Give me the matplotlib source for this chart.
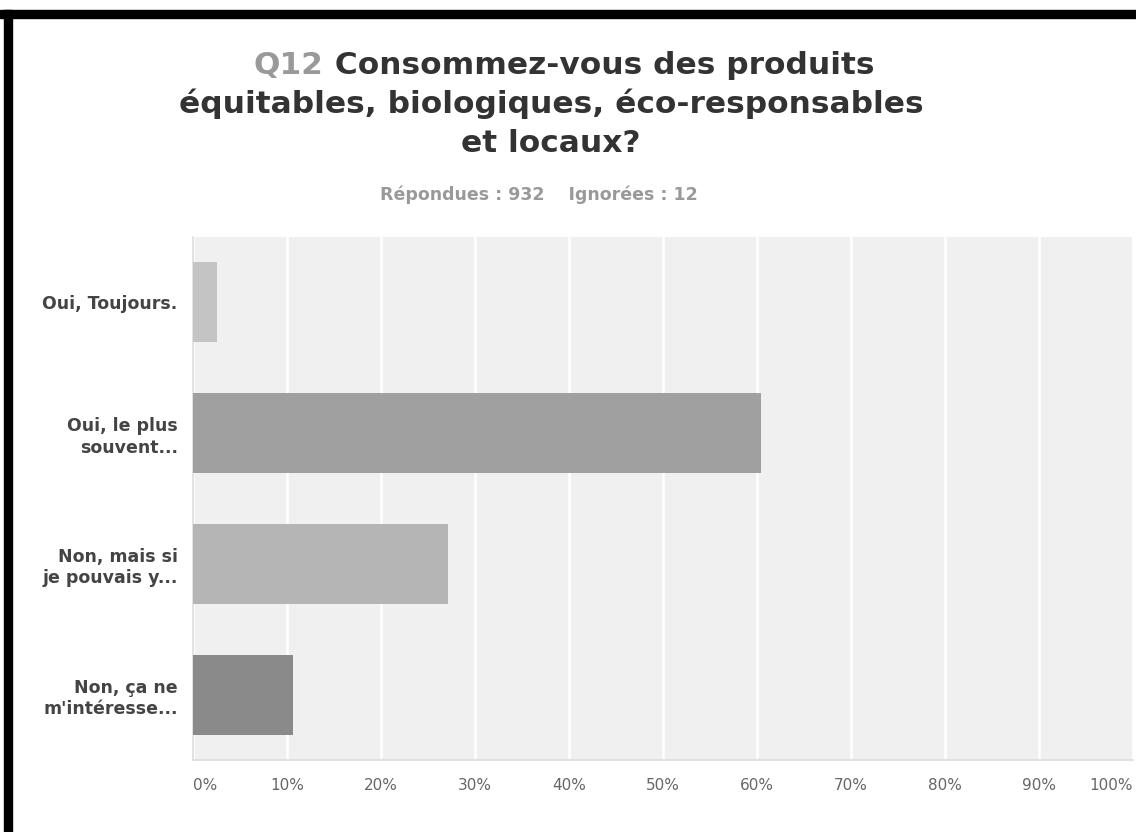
import matplotlib.pyplot as plt
from matplotlib.patches import Rectangle

# Réponses à la question 12 (pourcentages)
categories = ['Oui, Toujours.',
              'Oui, le plus\nsouvent...',
              'Non, mais si\nje pouvais y...',
              "Non, ça ne\nm'intéresse..."]
pourcentages = [2.6, 60.4, 27.1, 10.6]
couleurs = ['#c4c4c4', '#a0a0a0', '#b5b5b5', '#8a8a8a']
graduations = [0, 10, 20, 30, 40, 50, 60, 70, 80, 90, 100]
etiquettes_x = ['%d%%' % g for g in graduations]

repondues = 932
ignorees = 12

fig = plt.figure(figsize=(11.36, 8.32), dpi=100)
fig.patch.set_facecolor('white')

# Cadre noir (haut et gauche)
fig.patches.append(Rectangle((0, 1 - 18 / 832), 1, 8 / 832,
                             transform=fig.transFigure, color='black'))
fig.patches.append(Rectangle((4 / 1136, 0), 8 / 1136, 1 - 10 / 832,
                             transform=fig.transFigure, color='black'))

ax = fig.add_axes([193 / 1136, 1 - 760 / 832, 940 / 1136, 523 / 832])
ax.set_facecolor('#f0f0f0')

pos = list(range(len(categories)))
ax.barh(pos, pourcentages, height=0.61, color=couleurs, zorder=3)

ax.set_xlim(0, 100)
ax.set_ylim(len(categories) - 0.5, -0.5)
ax.set_xticks(graduations)
ax.set_xticklabels(etiquettes_x, family='DejaVu Sans', fontsize=11,
                   color='#666666')
ax.get_xticklabels()[0].set_ha('left')
ax.get_xticklabels()[-1].set_ha('right')
ax.tick_params(axis='x', length=0, pad=13)
ax.set_yticks(pos)
ax.set_yticklabels(categories, family='DejaVu Sans', fontweight='bold',
                   fontsize=12.5, color='#444444', linespacing=1.25)
ax.tick_params(axis='y', length=0, pad=11)

ax.grid(axis='x', color='white', linewidth=1.8, zorder=1)
for cote in ['top', 'right']:
    ax.spines[cote].set_visible(False)
for cote in ['left', 'bottom']:
    ax.spines[cote].set_color('#dddddd')
    ax.spines[cote].set_linewidth(1.2)

# Titre en trois lignes, "Q12" en gris
police = dict(family='DejaVu Sans', fontweight='bold', fontsize=22.5)
y1 = 1 - 74 / 832
t1 = fig.text(564 / 1136, y1, 'Q12 Consommez-vous des produits',
              ha='center', va='baseline', color='#333333', **police)
fig.canvas.draw()
bb = t1.get_window_extent()
t1.set_text('')
q = fig.text(bb.x0 / 1136, y1, 'Q12', ha='left', va='baseline',
             color='#999999', **police)
fig.canvas.draw()
bq = q.get_window_extent()
fig.text(bq.x1 / 1136, y1, ' Consommez-vous des produits',
         ha='left', va='baseline', color='#333333', **police)
fig.text(551 / 1136, 1 - 113 / 832, 'équitables, biologiques, éco-responsables',
         ha='center', va='baseline', color='#333333', **police)
fig.text(551 / 1136, 1 - 152 / 832, 'et locaux?', ha='center', va='baseline',
         color='#333333', **police)

fig.text(539 / 1136, 1 - 200 / 832,
         'Répondues : %d    Ignorées : %d' % (repondues, ignorees),
         ha='center', va='baseline', family='DejaVu Sans',
         fontweight='bold', fontsize=12.5, color='#999999')

fig.savefig('out.png', dpi=100)
